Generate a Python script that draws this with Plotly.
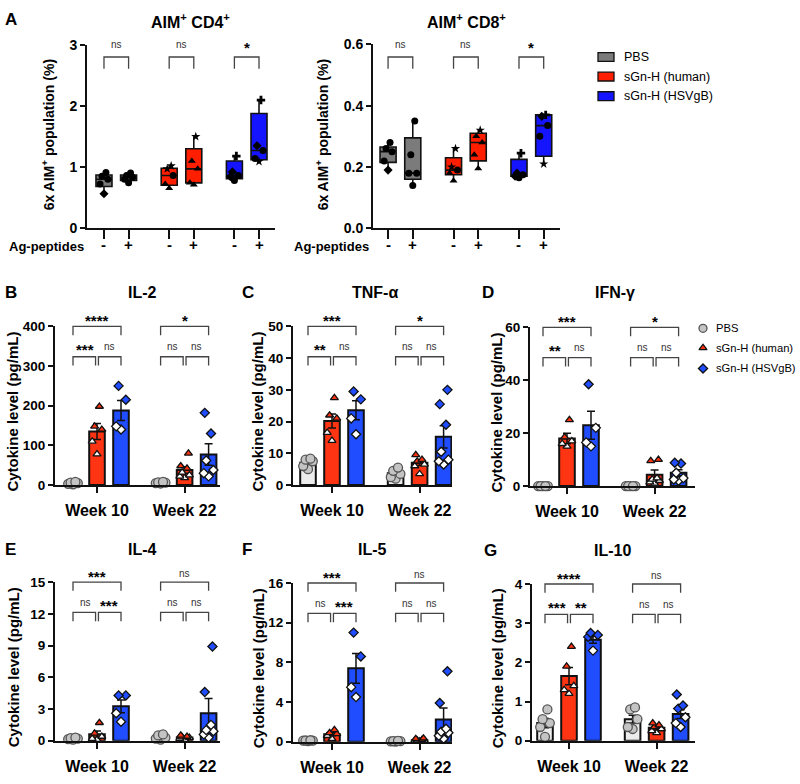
import plotly.graph_objects as go
import numpy as np

W, H = 800, 784
FONT = "Liberation Sans, Arial, Helvetica, sans-serif"

# ---------------- Panel A data (box plots, 6x AIM+ %) ----------------
ag_ticks = ["-", "+", "-", "+", "-", "+"]
box_pos = [0, 1, 2.65, 3.65, 5.3, 6.3]

cd4_q1 = [0.68, 0.78, 0.70, 0.74, 0.81, 1.12]
cd4_med = [0.80, 0.83, 0.86, 0.97, 0.86, 1.27]
cd4_q3 = [0.87, 0.87, 0.98, 1.30, 1.10, 1.88]
cd4_min = [0.56, 0.74, 0.65, 0.71, 0.78, 1.09]
cd4_max = [0.91, 0.90, 1.02, 1.50, 1.18, 2.10]
cd4_pts = [[0.56, 0.72, 0.80, 0.85, 0.91], [0.74, 0.80, 0.83, 0.86, 0.90],
           [0.65, 0.72, 0.86, 0.97, 1.02], [0.71, 0.74, 0.97, 1.10, 1.50],
           [0.78, 0.84, 0.86, 0.92, 1.18], [1.09, 1.14, 1.27, 1.35, 2.10]]
cd4_sig = ["ns", "ns", "*"]

cd8_q1 = [0.215, 0.16, 0.175, 0.22, 0.17, 0.235]
cd8_med = [0.25, 0.18, 0.19, 0.28, 0.175, 0.335]
cd8_q3 = [0.265, 0.295, 0.23, 0.31, 0.225, 0.37]
cd8_min = [0.19, 0.14, 0.155, 0.195, 0.165, 0.21]
cd8_max = [0.28, 0.35, 0.26, 0.32, 0.245, 0.37]
cd8_pts = [[0.19, 0.22, 0.25, 0.26, 0.28], [0.14, 0.18, 0.18, 0.24, 0.35],
           [0.155, 0.18, 0.19, 0.20, 0.26], [0.195, 0.24, 0.28, 0.30, 0.32],
           [0.165, 0.17, 0.175, 0.18, 0.245], [0.21, 0.30, 0.335, 0.365, 0.37]]
cd8_sig = ["ns", "ns", "*"]

# ---------------- Cytokine data (bars = mean, error = SEM) ----------------
bar_pos = [0, 1, 2, 3.65, 4.65, 5.65]
week_labels = ["Week 10", "Week 22"]
groups = ["PBS", "sGn-H (human)", "sGn-H (HSVgB)"]

il2_mean = [5, 135, 188, 6, 38, 77]
il2_sem = [1, 20, 25, 1, 8, 27]
il2_pts = [[2, 3, 5, 6, 8], [78, 110, 140, 148, 198], [140, 148, 215, 250],
           [4, 5, 6, 7, 8], [18, 22, 25, 32, 42, 48, 80], [22, 30, 38, 62, 130, 182]]
il2_sig = ["****", "***", "ns", "*", "ns", "ns"]

tnf_mean = [7, 20.2, 23.6, 3.7, 7.0, 15.2]
tnf_sem = [0.6, 2.2, 3.0, 0.6, 0.8, 3.5]
tnf_pts = [[5, 6, 7.5, 8, 8.3], [14, 16.5, 21, 22, 27.5], [16, 21, 27, 29.5],
           [2, 2.5, 3.5, 4.5, 5.5], [3.5, 6, 6.5, 7.5, 8, 9.5], [6.5, 7.5, 8, 10.5, 19, 25.5, 30]]
tnf_sig = ["***", "**", "ns", "*", "ns", "ns"]

ifn_mean = [0, 18, 23, 0, 4.3, 5.0]
ifn_sem = [0, 2, 5.3, 0, 1.8, 1.2]
ifn_pts = [[0, 0, 0, 0, 0], [15, 16, 17, 18.5, 25], [15, 16.5, 22, 38.5],
           [0, 0, 0, 0, 0], [1, 1.5, 2, 2.5, 3, 9.5, 10], [2, 2.5, 3, 5, 8.5, 8.8]]
ifn_sig = ["***", "**", "ns", "*", "ns", "ns"]

il4_mean = [0.2, 0.62, 3.25, 0.35, 0.3, 2.6]
il4_sem = [0.03, 0.3, 0.6, 0.1, 0.07, 1.4]
il4_pts = [[0.1, 0.15, 0.2, 0.25, 0.3], [0.1, 0.2, 0.4, 0.7, 1.7], [1.8, 2.6, 4.28, 4.28],
           [0.1, 0.2, 0.3, 0.5, 0.6], [0.1, 0.2, 0.3, 0.35, 0.4, 0.5], [0.3, 0.6, 0.9, 1.0, 1.5, 4.6, 8.9]]
il4_sig = ["***", "ns", "***", "ns", "ns", "ns"]

il5_mean = [0.1, 0.75, 7.4, 0.05, 0.15, 2.25]
il5_sem = [0.02, 0.15, 1.5, 0.02, 0.05, 1.15]
il5_pts = [[0.05, 0.1, 0.1, 0.12, 0.15], [0.3, 0.6, 0.8, 0.9, 1.2], [4.5, 5.5, 8.6, 11],
           [0.02, 0.04, 0.05, 0.06, 0.08], [0.05, 0.1, 0.1, 0.15, 0.2, 0.3, 0.35],
           [0.3, 0.6, 0.9, 1.0, 1.3, 3.9, 7.1]]
il5_sig = ["***", "ns", "***", "ns", "ns", "ns"]

il10_mean = [0.45, 1.65, 2.58, 0.55, 0.33, 0.68]
il10_sem = [0.12, 0.22, 0.09, 0.1, 0.03, 0.11]
il10_pts = [[0.1, 0.35, 0.45, 0.55, 0.8], [1.2, 1.3, 1.4, 1.9, 2.4], [2.3, 2.65, 2.7, 2.75],
            [0.3, 0.35, 0.55, 0.8, 0.85], [0.2, 0.25, 0.3, 0.35, 0.4, 0.45],
            [0.35, 0.45, 0.6, 0.82, 0.9, 1.18]]
il10_sig = ["****", "***", "**", "ns", "ns", "ns"]

# ---------------- styling ----------------
BOX_FILL = ["#7b7b7b", "#7b7b7b", "#ff1e00", "#ff1e00", "#1414ff", "#1414ff"]
BAR_FILL = ["#ececec", "#ff3412", "#1f4dff", "#ececec", "#ff3412", "#1f4dff"]
PT_FILL = ["#c4c4c4", "#ff3412", "#1f4dff"]
PT_SYM = ["circle", "triangle-up", "diamond"]
AXC = "#111111"

fig = go.Figure()
annotations = []
shapes = []


def ann(x, y, text, size, bold=True, xanchor="center", angle=0, color="black", yanchor="middle"):
    annotations.append(dict(x=x / W, y=1 - y / H, xref="paper", yref="paper", text=text,
                            showarrow=False, xanchor=xanchor, yanchor=yanchor, textangle=angle,
                            font=dict(family=FONT, size=size, color=color,
                                      weight="bold" if bold else "normal")))


def xpaper(p, xv):
    (a, b), (r0, r1) = p["px"], p["xr"]
    return (a + (xv - r0) / (r1 - r0) * (b - a)) / W


def bracket(p, xa, xb, ypx, leg):
    x0, x1 = xpaper(p, xa), xpaper(p, xb)
    yt, yb = 1 - ypx / H, 1 - (ypx + leg) / H
    shapes.append(dict(type="path", xref="paper", yref="paper",
                       path=f"M {x0},{yb} L {x0},{yt} L {x1},{yt} L {x1},{yb}",
                       line=dict(color="#444444", width=1.3)))


def sig_text(p, xc, ypx, text):
    if text == "ns":
        ann(xpaper(p, xc) * W, ypx, "ns", 10, bold=False, color="#333333")
    else:
        ann(xpaper(p, xc) * W, ypx + 3, text, 15, bold=True)


def jitter(n, spread):
    base = [0.0, -1.0, 1.0, -0.5, 0.5, -0.8, 0.8]
    return [spread * base[i % len(base)] for i in range(n)]


layout_axes = {}


def add_axes(n, p, yt, ytick_text=None):
    xk = "xaxis" if n == 1 else f"xaxis{n}"
    yk = "yaxis" if n == 1 else f"yaxis{n}"
    layout_axes[xk] = dict(domain=[p["px"][0] / W, p["px"][1] / W], range=list(p["xr"]),
                           anchor=f"y{'' if n == 1 else n}", showline=True, linecolor=AXC,
                           linewidth=2, showgrid=False, zeroline=False, ticks="outside",
                           tickwidth=2, tickcolor=AXC, fixedrange=True)
    layout_axes[yk] = dict(domain=[1 - p["py"][1] / H, 1 - p["py"][0] / H], range=list(p["yr"]),
                           anchor=f"x{'' if n == 1 else n}", showline=True, linecolor=AXC,
                           linewidth=2, showgrid=False, zeroline=False, ticks="outside",
                           tickwidth=2, ticklen=5, tickcolor=AXC, tickvals=yt,
                           ticktext=ytick_text, fixedrange=True,
                           tickfont=dict(family=FONT, size=14, color="black", weight="bold"))
    return xk, yk


# ---------------- Panel A ----------------
pA = [
    dict(n=1, px=(87, 275), py=(38, 224.5), xr=(-0.69, 6.95), yr=(0, 3), yt=[0, 1, 2, 3],
         ytt=None, q1=cd4_q1, med=cd4_med, q3=cd4_q3, lo=cd4_min, hi=cd4_max, pts=cd4_pts,
         sig=cd4_sig, ytitle_x=48, title="AIM<sup>+</sup> CD4<sup>+</sup>", title_x=190, ag_x=86),
    dict(n=2, px=(373, 560), py=(37, 225), xr=(-0.61, 6.96), yr=(0, 0.6), yt=[0, 0.2, 0.4, 0.6],
         ytt=["0.0", "0.2", "0.4", "0.6"], q1=cd8_q1, med=cd8_med, q3=cd8_q3, lo=cd8_min,
         hi=cd8_max, pts=cd8_pts, sig=cd8_sig, ytitle_x=322,
         title="AIM<sup>+</sup> CD8<sup>+</sup>", title_x=466, ag_x=371),
]
box_syms = [["diamond", "circle", "circle", "circle", "circle"],
            ["circle", "circle", "circle", "circle", "circle"],
            ["triangle-up", "triangle-up", "circle", "star", "star"],
            ["triangle-up", "triangle-up", "triangle-up", "triangle-up", "star"],
            ["circle", "diamond", "circle", "diamond", "cross"],
            ["star", "circle", "circle", "diamond", "cross"]]

for p in pA:
    n = p["n"]
    xs = "x" if n == 1 else f"x{n}"
    ys = "y" if n == 1 else f"y{n}"
    xk, yk = add_axes(n, p, p["yt"], p["ytt"])
    layout_axes[xk].update(tickvals=box_pos, ticklen=9, showticklabels=False)
    for g in range(3):
        idx = [2 * g, 2 * g + 1]
        fig.add_trace(go.Box(
            x=[box_pos[i] for i in idx], q1=[p["q1"][i] for i in idx],
            median=[p["med"][i] for i in idx], q3=[p["q3"][i] for i in idx],
            lowerfence=[p["lo"][i] for i in idx], upperfence=[p["hi"][i] for i in idx],
            fillcolor=BOX_FILL[idx[0]], line=dict(color="#111111", width=1.6), width=0.65,
            whiskerwidth=0, boxpoints=False, xaxis=xs, yaxis=ys, showlegend=False,
            hoverinfo="skip"))
    for i in range(6):
        vals = p["pts"][i]
        fig.add_trace(go.Scatter(
            x=[box_pos[i] + o for o in jitter(len(vals), 0.16)], y=vals, mode="markers",
            marker=dict(color="black", size=7, symbol=box_syms[i][:len(vals)]),
            xaxis=xs, yaxis=ys, showlegend=False, cliponaxis=False, hoverinfo="skip"))
        # the "-" / "+" condition labels under each tick
        ann(xpaper(p, box_pos[i]) * W, 241, ag_ticks[i], 15)
    # significance brackets
    for g in range(3):
        xa, xb = box_pos[2 * g], box_pos[2 * g + 1]
        bracket(p, xa, xb, 50, 12)
        sig_text(p, (xa + xb) / 2, 37, p["sig"][g])
    ann(p["title_x"], 1, p["title"], 16, yanchor="top")
    ann(p["ytitle_x"], 130, "6x AIM<sup>+</sup> population (%)", 14, angle=-90)
    ann(p["ag_x"], 243, "Ag-peptides", 13, xanchor="right")

ann(3, 0, "A", 17, xanchor="left", yanchor="top")

# legend A
leg_rows = [(50, groups[0], BOX_FILL[0]), (70, groups[1], BOX_FILL[2]), (90, groups[2], BOX_FILL[4])]
for y, t, c in leg_rows:
    shapes.append(dict(type="rect", xref="paper", yref="paper", x0=598 / W, x1=614 / W,
                       y0=1 - (y + 4.5) / H, y1=1 - (y - 4.5) / H, fillcolor=c,
                       line=dict(color="#111111", width=1.3)))
    ann(622, y, t, 12.5, bold=False, xanchor="left")

# ---------------- Cytokine panels ----------------
UNIT = 24.0
cyt = [
    dict(n=3, ax=55, first=73, end=220, py=(325, 487), yr=(0, 400), yt=[0, 100, 200, 300, 400],
         mean=il2_mean, sem=il2_sem, pts=il2_pts, sig=il2_sig, title="IL-2", tx=142, ty=290,
         letter="B", lx=3, ytx=13),
    dict(n=4, ax=293, first=308, end=452, py=(325, 487), yr=(0, 50), yt=[0, 10, 20, 30, 40, 50],
         mean=tnf_mean, sem=tnf_sem, pts=tnf_pts, sig=tnf_sig, title="TNF-α", tx=375, ty=290,
         letter="C", lx=240, ytx=258),
    dict(n=5, ax=530, first=543, end=695, py=(326, 488), yr=(0, 60), yt=[0, 20, 40, 60],
         mean=ifn_mean, sem=ifn_sem, pts=ifn_pts, sig=ifn_sig, title="IFN-γ", tx=615, ty=290,
         letter="D", lx=480, ytx=497),
    dict(n=6, ax=55, first=73, end=220, py=(586, 748), yr=(0, 15), yt=[0, 3, 6, 9, 12, 15],
         mean=il4_mean, sem=il4_sem, pts=il4_pts, sig=il4_sig, title="IL-4", tx=142, ty=553,
         letter="E", lx=3, ytx=13),
    dict(n=7, ax=293, first=308, end=452, py=(587, 749), yr=(0, 16), yt=[0, 4, 8, 12, 16],
         mean=il5_mean, sem=il5_sem, pts=il5_pts, sig=il5_sig, title="IL-5", tx=372, ty=553,
         letter="F", lx=240, ytx=258),
    dict(n=8, ax=532, first=545, end=695, py=(588, 748), yr=(0, 4), yt=[0, 1, 2, 3, 4],
         mean=il10_mean, sem=il10_sem, pts=il10_pts, sig=il10_sig, title="IL-10", tx=612, ty=554,
         letter="G", lx=482, ytx=497),
]

for p in cyt:
    n = p["n"]
    p["px"] = (p["ax"], p["end"])
    p["xr"] = ((p["ax"] - p["first"]) / UNIT, (p["end"] - p["first"]) / UNIT)
    xs, ys = f"x{n}", f"y{n}"
    xk, yk = add_axes(n, p, p["yt"])
    layout_axes[yk]["tickfont"]["size"] = 13.5
    layout_axes[xk].update(tickvals=[bar_pos[1], bar_pos[4]], ticktext=week_labels, ticklen=6,
                           ticklabelstandoff=4,
                           tickfont=dict(family=FONT, size=16, color="black", weight="bold"))
    fig.add_trace(go.Bar(
        x=bar_pos, y=p["mean"], width=0.65, marker=dict(color=BAR_FILL, line=dict(color="#111111", width=2)),
        error_y=dict(type="data", array=p["sem"], color="#111111", thickness=1.5, width=4),
        xaxis=xs, yaxis=ys, showlegend=False, hoverinfo="skip"))
    for i in range(6):
        g = i % 3
        vals = p["pts"][i]
        m = p["mean"][i]
        if g == 0:
            fills = [PT_FILL[0]] * len(vals)
            lc, sz = "#555555", 9
        else:
            fills = [PT_FILL[g] if v > m else "white" for v in vals]
            lc, sz = "#111111", 7
        fig.add_trace(go.Scatter(
            x=[bar_pos[i] + o for o in jitter(len(vals), 0.2)], y=vals, mode="markers",
            marker=dict(color=fills, size=sz, symbol=PT_SYM[g], line=dict(color=lc, width=1.3)),
            xaxis=xs, yaxis=ys, showlegend=False, cliponaxis=False, hoverinfo="skip"))
    top = p["py"][0]
    for w in range(2):
        b0, b1, b2 = bar_pos[3 * w], bar_pos[3 * w + 1], bar_pos[3 * w + 2]
        s = p["sig"][3 * w: 3 * w + 3]
        bracket(p, b0, b2, top, 9)
        sig_text(p, (b0 + b2) / 2, top - 9, s[0])
        bracket(p, b0, b1 - 0.06, top + 31, 9)
        bracket(p, b1 + 0.06, b2, top + 31, 9)
        sig_text(p, (b0 + b1) / 2, top + 21, s[1])
        sig_text(p, (b1 + b2) / 2, top + 21, s[2])
    ann(p["tx"], p["ty"], p["title"], 16)
    ann(p["lx"], p["ty"], p["letter"], 17, xanchor="left")
    ann(p["ytx"], (p["py"][0] + p["py"][1]) / 2 + 6, "Cytokine level (pg/mL)", 15, angle=-90)

# legend D (markers drawn on a full-page helper axis in pixel units)
leg_y = [327, 347, 368]
for g in range(3):
    fig.add_trace(go.Scatter(
        x=[703], y=[leg_y[g]], mode="markers",
        marker=dict(color=PT_FILL[g], size=8 if g == 0 else 7, symbol=PT_SYM[g],
                    line=dict(color="#555555" if g == 0 else "#111111", width=1.3)),
        xaxis="x9", yaxis="y9", showlegend=False, cliponaxis=False, hoverinfo="skip"))
    ann(714, leg_y[g], groups[g], 11.2, bold=False, xanchor="left")

layout_axes["xaxis9"] = dict(domain=[0, 1], range=[0, W], visible=False, fixedrange=True, anchor="y9")
layout_axes["yaxis9"] = dict(domain=[0, 1], range=[H, 0], visible=False, fixedrange=True, anchor="x9")

fig.update_layout(
    width=W, height=H, margin=dict(l=0, r=0, t=0, b=0), autosize=False,
    paper_bgcolor="white", plot_bgcolor="rgba(0,0,0,0)", barmode="overlay",
    font=dict(family=FONT, color="black"), annotations=annotations, shapes=shapes,
    showlegend=False, **layout_axes)

fig.write_html("out.html", config={"displayModeBar": False})
